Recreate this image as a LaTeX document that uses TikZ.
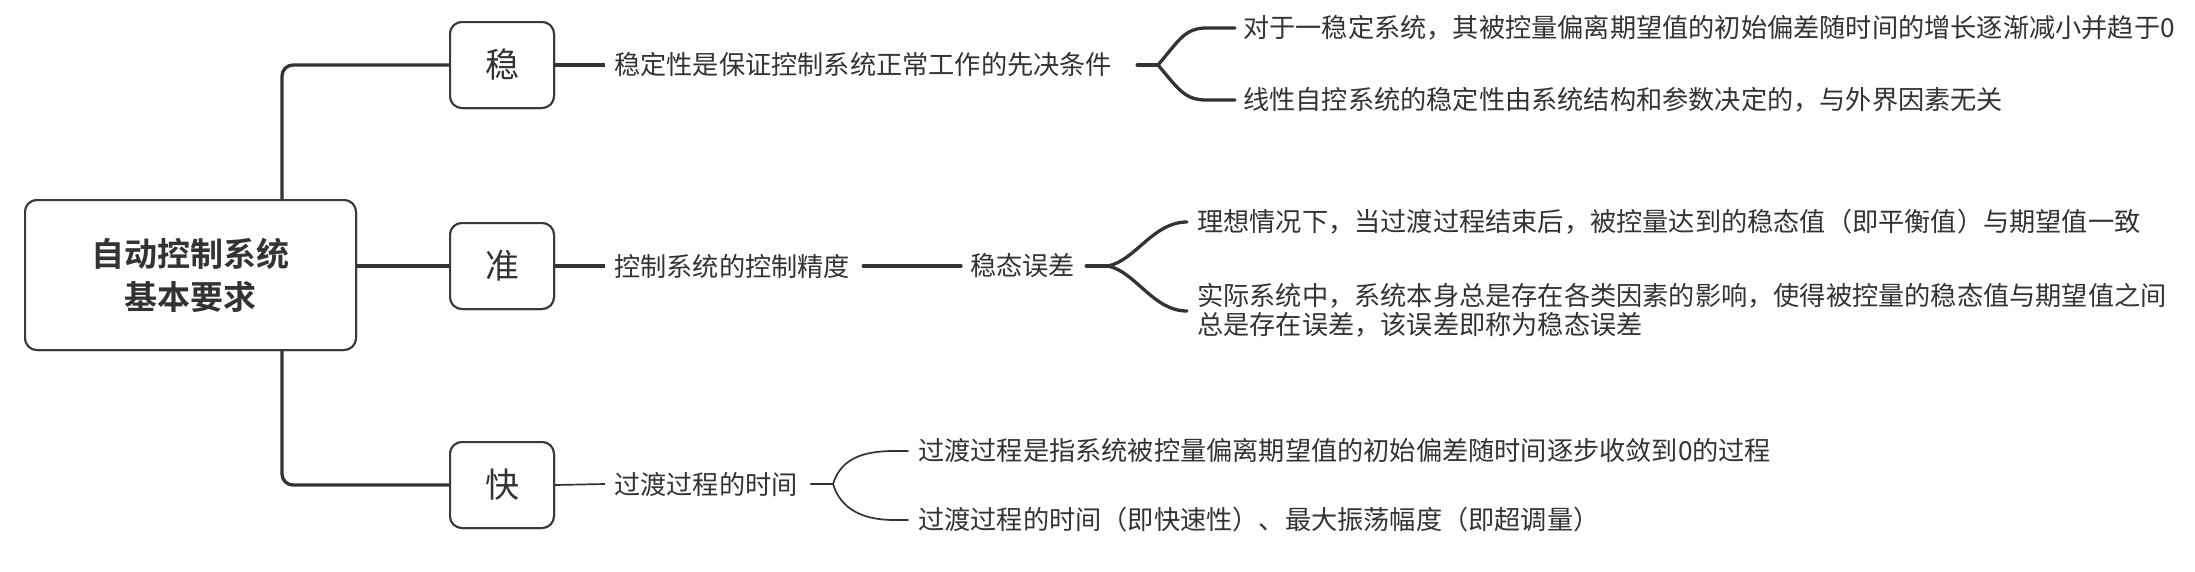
\documentclass[tikz,border=0pt]{standalone}
\usepackage{fontspec}
\setmainfont{Noto Sans CJK SC}
\newfontfamily\cjkbold{Noto Sans CJK SC Bold}
\definecolor{ink}{HTML}{333333}
\definecolor{edge}{HTML}{3A3A3A}
\begin{document}
\begin{tikzpicture}[x=1pt,y=-1pt,
  every node/.style={text=ink},
  box/.style={draw=edge,line width=2pt,rounded corners=12pt,fill=white,
    minimum width=104pt,minimum height=86pt,inner sep=0pt,
    font=\fontsize{34}{40}\selectfont},
  rootbox/.style={draw=edge,line width=2pt,rounded corners=12pt,fill=white,
    minimum width=331pt,minimum height=150pt,inner sep=0pt,align=center,
    font=\cjkbold\fontsize{33}{45}\selectfont},
  lbl/.style={anchor=west,inner xsep=9pt,inner ysep=0pt,
    font=\fontsize{26.2}{29}\selectfont},
  leaf/.style={anchor=west,inner xsep=10pt,inner ysep=0pt,align=left,
    font=\fontsize{26.2}{29}\selectfont},
  heavy/.style={draw=ink,line width=3.3pt,line cap=round},
  light/.style={draw=ink,line width=1.7pt,line cap=round},
]
\useasboundingbox (0,0) rectangle (2195,571);

% nodes
\node[rootbox] (root) at (190.5,275) {自动控制系统\\[-2pt]基本要求};
\node[box] (wen) at (502,65) {稳};
\node[box] (zhun) at (502,266) {准};
\node[box] (kuai) at (502,485) {快};

\coordinate (vx) at (282,0);

\node[lbl] (t1) at (605,65) {稳定性是保证控制系统正常工作的先决条件};
\node[lbl] (t2) at (605,266) {控制系统的控制精度};
\node[lbl] (t3) at (961,266) {稳态误差};
\node[lbl] (t4) at (605,484) {过渡过程的时间};

\coordinate (j1) at (1158,65);
\coordinate (j2) at (1108,266);
\coordinate (j3) at (833,484);

\node[leaf,inner xsep=8pt] (a1) at (1235,28) {对于一稳定系统，其被控量偏离期望值的初始偏差随时间的增长逐渐减小并趋于0};
\node[leaf,inner xsep=8pt] (a2) at (1235,100) {线性自控系统的稳定性由系统结构和参数决定的，与外界因素无关};
\node[leaf] (b1) at (1187,222) {理想情况下，当过渡过程结束后，被控量达到的稳态值（即平衡值）与期望值一致};
\node[leaf] (b2) at (1187,310) {实际系统中，系统本身总是存在各类因素的影响，使得被控量的稳态值与期望值之间\\总是存在误差，该误差即称为稳态误差};
\node[leaf] (c1) at (908,450) {过渡过程是指系统被控量偏离期望值的初始偏差随时间逐步收敛到0的过程};
\node[leaf] (c2) at (908,520) {过渡过程的时间（即快速性）、最大振荡幅度（即超调量）};

% root connectors
\begin{scope}[on background layer/.style={}]
\draw[heavy,line cap=butt,rounded corners=11pt] (root.north -| vx) |- (wen.west);
\draw[heavy,line cap=butt,rounded corners=11pt] (root.south -| vx) |- (kuai.west);
\draw[heavy,line cap=butt] (root.east |- zhun.west) -- (zhun.west);
\end{scope}

% 稳 branch
\draw[heavy,line cap=butt] (wen.east) -- (t1.west);
\draw[heavy] ([xshift=16pt]t1.east) -- (j1);
\draw[heavy] (j1) .. controls +(22,-26) and +(-22,0) .. ([xshift=-28pt]a1.west) -- (a1.west);
\draw[heavy] (j1) .. controls +(22,26) and +(-22,0) .. ([xshift=-28pt]a2.west) -- (a2.west);

% 准 branch
\draw[heavy,line cap=butt] (zhun.east) -- (t2.west);
\draw[heavy] ([xshift=4pt]t2.east) -- (t3.west);
\draw[heavy] ([xshift=2pt]t3.east) -- (j2);
\draw[heavy] (j2) .. controls +(28,-6) and +(-34,0) .. (b1.west);
\draw[heavy] (j2) .. controls +(28,6) and +(-34,0) .. ([yshift=-1pt]b2.west);

% 快 branch
\draw[light,line cap=butt] (kuai.east) -- (t4.west);
\draw[light] ([xshift=4pt]t4.east) -- (j3);
\draw[light] (j3) .. controls +(8,-26) and +(-30,0) .. ([xshift=-14pt,yshift=-1pt]c1.west) -- ([yshift=-1pt]c1.west);
\draw[light] (j3) .. controls +(8,26) and +(-30,0) .. ([xshift=-14pt]c2.west) -- (c2.west);

% redraw boxes on top
\node[box] at (wen) {稳};
\node[box] at (zhun) {准};
\node[box] at (kuai) {快};
\node[rootbox] at (root) {自动控制系统\\[-2pt]基本要求};
\end{tikzpicture}
\end{document}
